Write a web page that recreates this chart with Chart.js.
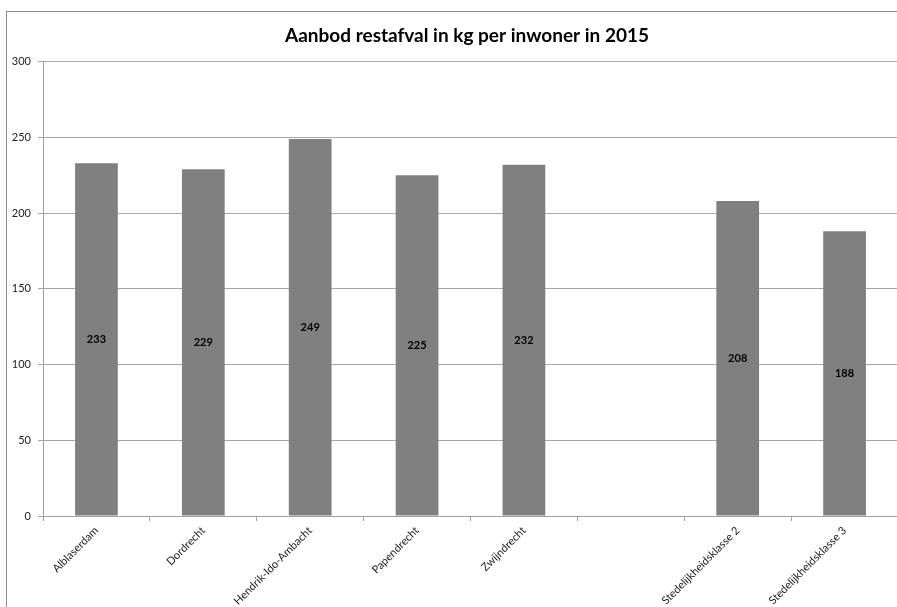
<!DOCTYPE html>
<html>
<head>
<meta charset="utf-8">
<script src="https://cdn.jsdelivr.net/npm/chart.js@4"></script>
<style>
  html, body { margin: 0; padding: 0; background: #fff; overflow: hidden; }
  #box { position: absolute; left: 6px; top: 11px; width: 920px; height: 600px;
         border-left: 1px solid #8c8c8c; border-top: 1px solid #8c8c8c; }
  #myChart { display: block; }
</style>
</head>
<body>
<div id="box"><canvas id="myChart" width="920" height="596"></canvas></div>
<script>
const chartTitle = 'Aanbod restafval in kg per inwoner in 2015';
const categories = ['Alblaserdam', 'Dordrecht', 'Hendrik-Ido-Ambacht', 'Papendrecht', 'Zwijndrecht', '', 'Stedelijkheidsklasse 2', 'Stedelijkheidsklasse 3'];
const restafval = [233, 229, 249, 225, 232, null, 208, 188];
const yTicks = [0, 50, 100, 150, 200, 250, 300];

const fontFamily = 'Lato, "Open Sans", sans-serif';

// draw the value in the middle of each bar (like Excel's "center" labels)
const centerLabels = {
    id: 'centerLabels',
    afterDatasetsDraw(chart) {
        const ctx = chart.ctx;
        const meta = chart.getDatasetMeta(0);
        ctx.save();
        ctx.font = 'bold 11px ' + fontFamily;
        ctx.fillStyle = '#000';
        ctx.textAlign = 'center';
        ctx.textBaseline = 'middle';
        meta.data.forEach((bar, i) => {
            const v = restafval[i];
            if (v === null) return;
            ctx.fillText(String(v), bar.x, (bar.y + bar.base) / 2);
        });
        ctx.restore();
    }
};

const ctx = document.getElementById('myChart').getContext('2d');
const myChart = new Chart(ctx, {
    type: 'bar',
    data: {
        labels: categories,
        datasets: [{
            label: 'Restafval',
            data: restafval,
            backgroundColor: '#808080',
            borderWidth: 0,
            categoryPercentage: 1.0,
            barPercentage: 0.4
        }]
    },
    options: {
        responsive: false,
        animation: false,
        layout: { padding: { left: 0, right: 0, top: 0, bottom: 0 } },
        plugins: {
            legend: { display: false },
            tooltip: { enabled: false },
            title: {
                display: true,
                text: chartTitle,
                color: '#000',
                font: { family: fontFamily, size: 19, weight: 'bold' },
                padding: { top: 12, bottom: 15 }
            }
        },
        scales: {
            x: {
                grid: { offset: true, drawOnChartArea: false, drawTicks: true, tickLength: 5, color: '#a0a0a0' },
                border: { color: '#a0a0a0' },
                ticks: {
                    minRotation: 45,
                    maxRotation: 45,
                    autoSkip: false,
                    color: '#222',
                    font: { family: fontFamily, size: 11 }
                },
                afterFit(scale) { scale.height = 92; }
            },
            y: {
                min: 0,
                max: 300,
                afterBuildTicks(scale) { scale.ticks = yTicks.map(v => ({ value: v })); },
                grid: { color: '#a6a6a6', tickLength: 5 },
                border: { color: '#a0a0a0' },
                ticks: {
                    padding: 7,
                    color: '#222',
                    font: { family: fontFamily, size: 11 }
                },
                afterFit(scale) { scale.width = 36; }
            },
            right: {
                position: 'right',
                display: true,
                grid: { display: false },
                border: { display: false },
                ticks: { display: false },
                afterFit(scale) { scale.width = 29; }
            }
        }
    },
    plugins: [centerLabels]
});
</script>
</body>
</html>
